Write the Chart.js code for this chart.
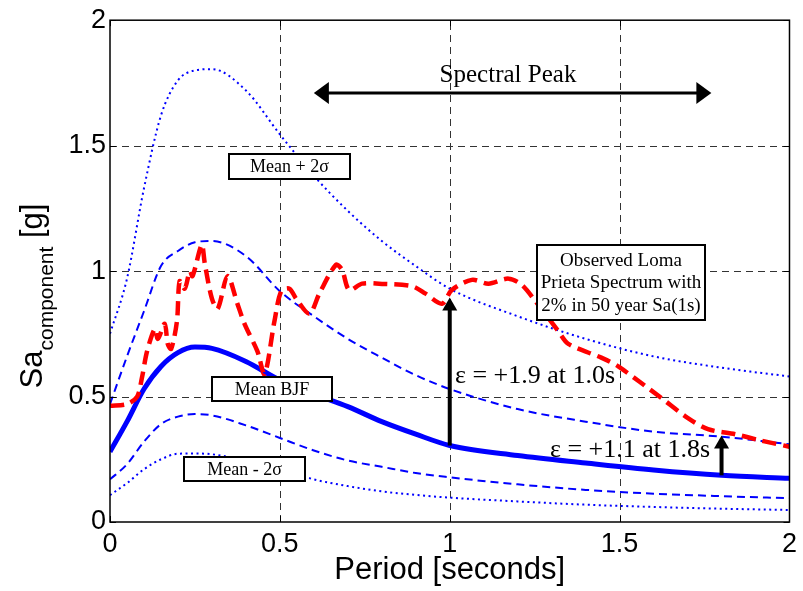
<!DOCTYPE html>
<html><head><meta charset="utf-8">
<script src="https://cdn.jsdelivr.net/npm/chart.js@4.4.1/dist/chart.umd.min.js"></script>
<style>html,body{margin:0;padding:0;background:#fff;overflow:hidden}#wrap{width:803px;height:591px}</style>
</head><body><div id="wrap"><canvas id="c" width="803" height="591"></canvas></div>
<script>
// ---------- data ----------
const periodSmooth = [0, 0.05, 0.1, 0.15, 0.2, 0.25, 0.3, 0.4, 0.5, 0.6, 0.7, 0.8, 0.9, 1.0, 1.2, 1.4, 1.6, 1.8, 2.0];
const meanBJF      = [0.28, 0.40, 0.53, 0.62, 0.675, 0.697, 0.692, 0.64, 0.565, 0.51, 0.46, 0.40, 0.35, 0.305, 0.265, 0.235, 0.207, 0.186, 0.174];
const meanPlus1    = [0.47, 0.66, 0.84, 1.02, 1.08, 1.115, 1.12, 1.06, 0.92, 0.82, 0.73, 0.655, 0.585, 0.53, 0.45, 0.40, 0.36, 0.34, 0.31];
const meanPlus2    = [0.75, 0.97, 1.33, 1.62, 1.76, 1.80, 1.805, 1.72, 1.545, 1.38, 1.24, 1.12, 1.02, 0.93, 0.82, 0.73, 0.66, 0.615, 0.58];
const meanMinus1   = [0.17, 0.23, 0.32, 0.39, 0.42, 0.43, 0.425, 0.385, 0.335, 0.285, 0.245, 0.22, 0.195, 0.178, 0.15, 0.128, 0.113, 0.103, 0.095];
const meanMinus2   = [0.107, 0.155, 0.21, 0.25, 0.272, 0.273, 0.27, 0.245, 0.21, 0.17, 0.143, 0.122, 0.108, 0.097, 0.082, 0.069, 0.06, 0.053, 0.048];
const periodLoma = [0, 0.05, 0.08, 0.094, 0.109, 0.132, 0.141, 0.161, 0.17, 0.18, 0.197, 0.205, 0.22, 0.235, 0.243, 0.27, 0.279, 0.3, 0.317, 0.346, 0.375, 0.396, 0.434, 0.455, 0.484, 0.504, 0.528, 0.548, 0.587, 0.616, 0.665, 0.683, 0.704, 0.742, 0.792, 0.889, 0.929, 0.977, 1.006, 1.065, 1.114, 1.173, 1.212, 1.252, 1.32, 1.349, 1.446, 1.496, 1.622, 1.70, 1.76, 1.84, 1.915, 2.0];
const saLoma     = [0.463, 0.47, 0.50, 0.575, 0.68, 0.77, 0.73, 0.79, 0.71, 0.69, 0.80, 0.96, 0.93, 1.0, 0.98, 1.105, 1.03, 0.89, 0.85, 0.98, 0.87, 0.79, 0.68, 0.59, 0.80, 0.92, 0.93, 0.89, 0.83, 0.91, 1.025, 1.005, 0.925, 0.95, 0.95, 0.94, 0.91, 0.87, 0.925, 0.965, 0.95, 0.97, 0.945, 0.88, 0.76, 0.71, 0.655, 0.62, 0.495, 0.415, 0.37, 0.35, 0.325, 0.30];
const xTickLabels = ['0', '0.5', '1', '1.5', '2'];
const yTickLabels = ['0', '0.5', '1', '1.5', '2'];
const epsilonT  = [1.0, 1.8];
const epsilonLo = [0.305, 0.186];
const epsilonHi = [0.895, 0.345];
const epsilonText = ['\u03b5 = +1.9 at 1.0s', '\u03b5 = +1.1 at 1.8s'];
const peakRange = [0.6, 1.77];

// ---------- helpers ----------
const pts = (xs, ys) => xs.map((v, i) => ({x: v, y: ys[i]}));
const SANS = "'Liberation Sans', Arial, sans-serif";
const SERIF = "'Liberation Serif', 'Times New Roman', serif";
const BLUE = '#0000ff', RED = '#ff0000';

function arrowHead(ctx, tx, ty, dx, dy, len, half) {
  const px = -dy, py = dx;
  ctx.beginPath();
  ctx.moveTo(tx, ty);
  ctx.lineTo(tx - dx * len + px * half, ty - dy * len + py * half);
  ctx.lineTo(tx - dx * len - px * half, ty - dy * len - py * half);
  ctx.closePath();
  ctx.fill();
}
function box(ctx, cx, cy, w, h, lines, size, lh) {
  ctx.save();
  ctx.fillStyle = '#fff';
  ctx.fillRect(cx - w / 2, cy - h / 2, w, h);
  ctx.strokeStyle = '#000'; ctx.lineWidth = 2; ctx.setLineDash([]);
  ctx.strokeRect(cx - w / 2, cy - h / 2, w, h);
  ctx.fillStyle = '#000';
  ctx.font = size + 'px ' + SERIF;
  ctx.textAlign = 'center'; ctx.textBaseline = 'middle';
  const n = lines.length;
  lines.forEach((t, i) => ctx.fillText(t, cx, cy + (i - (n - 1) / 2) * lh + 1));
  ctx.restore();
}

const gridPlugin = {
  id: 'gridPlugin',
  beforeDatasetsDraw(chart) {
    const {ctx, chartArea: a, scales: {x, y}} = chart;
    ctx.save();
    ctx.strokeStyle = '#333'; ctx.lineWidth = 1; ctx.setLineDash([7, 5]);
    x.ticks.forEach(t => { const p = Math.round(x.getPixelForValue(t.value)) + 0.5;
      if (p > a.left + 2 && p < a.right - 2) { ctx.beginPath(); ctx.moveTo(p, a.bottom); ctx.lineTo(p, a.top); ctx.stroke(); } });
    y.ticks.forEach(t => { const p = Math.round(y.getPixelForValue(t.value)) + 0.5;
      if (p > a.top + 2 && p < a.bottom - 2) { ctx.beginPath(); ctx.moveTo(a.left, p); ctx.lineTo(a.right, p); ctx.stroke(); } });
    ctx.restore();
  }
};

const annotPlugin = {
  id: 'annotPlugin',
  afterDatasetsDraw(chart) {
    const {ctx, chartArea: a, scales: {x, y}} = chart;
    ctx.save();
    ctx.setLineDash([]);
    // frame
    ctx.strokeStyle = '#000'; ctx.lineWidth = 1.5;
    ctx.strokeRect(a.left, a.top, a.right - a.left, a.bottom - a.top);
    // inner ticks
    ctx.lineWidth = 1;
    x.ticks.forEach(t => { const p = Math.round(x.getPixelForValue(t.value)) + 0.5;
      ctx.beginPath(); ctx.moveTo(p, a.bottom); ctx.lineTo(p, a.bottom - 6); ctx.moveTo(p, a.top); ctx.lineTo(p, a.top + 6); ctx.stroke(); });
    y.ticks.forEach(t => { const p = Math.round(y.getPixelForValue(t.value)) + 0.5;
      ctx.beginPath(); ctx.moveTo(a.left, p); ctx.lineTo(a.left + 6, p); ctx.moveTo(a.right, p); ctx.lineTo(a.right - 6, p); ctx.stroke(); });

    // epsilon arrows
    ctx.fillStyle = '#000'; ctx.strokeStyle = '#000';
    epsilonT.forEach((t, i) => {
      const px = x.getPixelForValue(t), y0 = y.getPixelForValue(epsilonLo[i]), y1 = y.getPixelForValue(epsilonHi[i]);
      ctx.lineWidth = 4;
      ctx.beginPath(); ctx.moveTo(px, y0); ctx.lineTo(px, y1 + 10); ctx.stroke();
      arrowHead(ctx, px, y1, 0, -1, 13, 7.5);
    });
    // spectral peak double arrow
    const ya = y.getPixelForValue(1.71), xa0 = x.getPixelForValue(peakRange[0]), xa1 = x.getPixelForValue(peakRange[1]);
    ctx.lineWidth = 3;
    ctx.beginPath(); ctx.moveTo(xa0 + 10, ya); ctx.lineTo(xa1 - 10, ya); ctx.stroke();
    arrowHead(ctx, xa0, ya, -1, 0, 15, 11);
    arrowHead(ctx, xa1, ya, 1, 0, 15, 11);

    // texts
    ctx.fillStyle = '#000';
    ctx.font = '25px ' + SERIF; ctx.textAlign = 'center'; ctx.textBaseline = 'alphabetic';
    ctx.fillText('Spectral Peak', 508, 82);
    ctx.font = '26px ' + SERIF; ctx.textAlign = 'left';
    ctx.fillText(epsilonText[0], 455, 383);
    ctx.fillText(epsilonText[1], 550, 457);

    // label boxes
    box(ctx, 289.5, 166.5, 121, 25, ['Mean + 2\u03c3'], 18, 22);
    box(ctx, 272, 389, 120, 24, ['Mean BJF'], 18, 22);
    box(ctx, 244.5, 469, 121, 24, ['Mean - 2\u03c3'], 18, 22);
    box(ctx, 621, 282.5, 168, 75, ['Observed Loma', 'Prieta Spectrum with', '2% in 50 year Sa(1s)'], 19, 22.5);

    // y axis title with subscript
    ctx.save();
    const big = '31px ' + SANS, small = '21px ' + SANS;
    ctx.font = big; const wSa = ctx.measureText('Sa').width; const wG = ctx.measureText(' [g]').width;
    ctx.font = small; const wC = ctx.measureText('component').width;
    const total = wSa + wC + wG;
    ctx.translate(42, 296);
    ctx.rotate(-Math.PI / 2);
    ctx.textAlign = 'left'; ctx.textBaseline = 'alphabetic';
    let cx = -total / 2;
    ctx.font = big; ctx.fillText('Sa', cx, 0); cx += wSa;
    ctx.font = small; ctx.fillText('component', cx, 11); cx += wC;
    ctx.font = big; ctx.fillText(' [g]', cx, 0);
    ctx.restore();
    ctx.restore();
  }
};

const lineDs = (label, data, color, width, dash, extra) => Object.assign({
  label, data, borderColor: color, backgroundColor: color, borderWidth: width, borderDash: dash,
  showLine: true, pointRadius: 0, fill: false, cubicInterpolationMode: 'monotone'
}, extra || {});

new Chart(document.getElementById('c'), {
  type: 'scatter',
  data: {
    datasets: [
      lineDs('Observed Loma Prieta', pts(periodLoma, saLoma), RED, 4.5, [14, 7], {cubicInterpolationMode: 'default', tension: 0.3}),
      lineDs('Mean BJF', pts(periodSmooth, meanBJF), BLUE, 5, []),
      lineDs('Mean + 1\u03c3', pts(periodSmooth, meanPlus1), BLUE, 2, [8, 5]),
      lineDs('Mean - 1\u03c3', pts(periodSmooth, meanMinus1), BLUE, 2, [8, 5]),
      lineDs('Mean + 2\u03c3', pts(periodSmooth, meanPlus2), BLUE, 2, [2, 3.5]),
      lineDs('Mean - 2\u03c3', pts(periodSmooth, meanMinus2), BLUE, 2, [2, 3.5])
    ]
  },
  options: {
    responsive: false, animation: false, devicePixelRatio: 1,
    layout: {padding: {top: 17, right: 11, left: 0, bottom: 0}},
    plugins: {legend: {display: false}, tooltip: {enabled: false}},
    scales: {
      x: {
        type: 'linear', min: 0, max: 2,
        afterFit(s) { s.height = 69; },
        afterBuildTicks(s) { s.ticks = xTickLabels.map(v => ({value: parseFloat(v)})); },
        grid: {display: false, drawTicks: false},
        border: {display: false},
        ticks: {color: '#000', padding: 6, font: {family: SANS, size: 27}, maxRotation: 0,
          callback: (v) => xTickLabels.find(l => parseFloat(l) === v) ?? ''},
        title: {display: true, text: 'Period [seconds]', color: '#000', font: {family: SANS, size: 31}, padding: {top: 0, bottom: 2}}
      },
      y: {
        type: 'linear', min: 0, max: 2,
        afterFit(s) { s.width = 110; },
        afterBuildTicks(s) { s.ticks = yTickLabels.map(v => ({value: parseFloat(v)})); },
        grid: {display: false, drawTicks: false},
        border: {display: false},
        ticks: {color: '#000', padding: 4, font: {family: SANS, size: 27},
          callback: (v) => yTickLabels.find(l => parseFloat(l) === v) ?? ''}
      }
    }
  },
  plugins: [gridPlugin, annotPlugin]
});
</script></body></html>
